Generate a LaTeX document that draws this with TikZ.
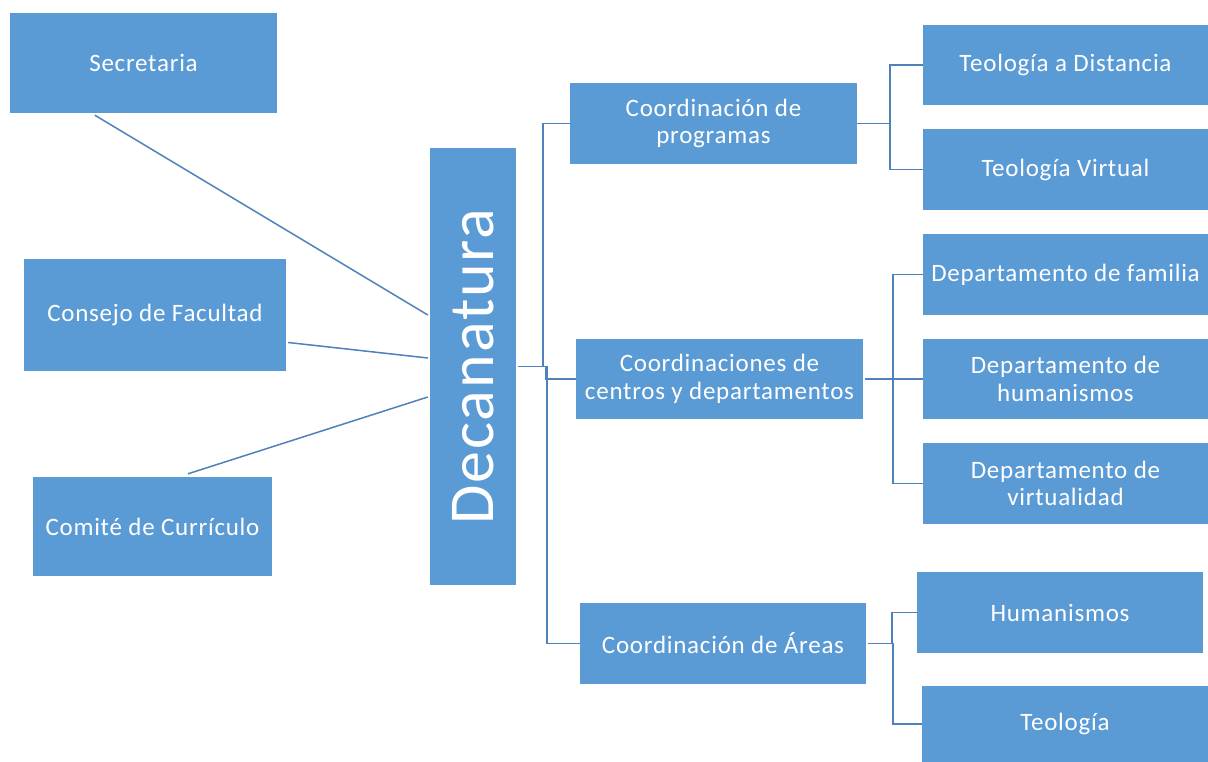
\documentclass[tikz,border=0pt]{standalone}
\usepackage{fontspec}
\setmainfont{Carlito}[LetterSpace=3]
\definecolor{boxblue}{HTML}{5B9BD5}
\definecolor{lineblue}{HTML}{4F81BD}
\begin{document}
\begin{tikzpicture}[x=1pt,y=-1pt,
  box/.style={fill=boxblue,draw=none,text=white,align=center,inner sep=0pt,
    font=\fontsize{25}{27.5}\selectfont},
  conn/.style={draw=lineblue,line width=1.5pt}]
\fill[white] (0,0) rectangle (1208,762);
\useasboundingbox (0,0) rectangle (1208,762);
% left
\node[box,minimum width=267pt,minimum height=100pt] (sec) at (143.5,63) {Secretaria};
\node[box,minimum width=262pt,minimum height=112pt] (cons) at (155,315) {Consejo de Facultad};
\node[box,minimum width=239pt,minimum height=99pt] (comi) at (152.5,526.5) {Comité de Currículo};
% center
\node[box,minimum width=86pt,minimum height=437pt] (dec) at (473,366.5) {};
\node[text=white,rotate=90,font=\fontsize{64}{70}\selectfont,inner sep=0pt] (dect) at (dec.center) {Decanatura};
% middle column
\node[box,minimum width=287pt,minimum height=81pt] (cp) at (713.5,123.5) {Coordinación de\\programas};
\node[box,minimum width=287pt,minimum height=80pt] (cc) at (719.5,379) {Coordinaciones de\\centros y departamentos};
\node[box,minimum width=286pt,minimum height=81pt] (ca) at (723,643.5) {Coordinación de Áreas};
% right column
\node[box,minimum width=285pt,minimum height=80pt] (td) at (1065.5,65) {Teología a Distancia};
\node[box,minimum width=285pt,minimum height=81pt] (tv) at (1065.5,169.5) {Teología Virtual};
\node[box,minimum width=285pt,minimum height=81pt] (df) at (1065.5,274.5) {Departamento de familia};
\node[box,minimum width=285pt,minimum height=80pt] (dh) at (1065.5,379) {Departamento de\\humanismos};
\node[box,minimum width=285pt,minimum height=81pt] (dv) at (1065.5,483.5) {Departamento de\\virtualidad};
\node[box,minimum width=286pt,minimum height=81pt] (hu) at (1060,612.5) {Humanismos};
\node[box,minimum width=286pt,minimum height=76pt] (te) at (1065,724) {Teología};
% left connectors
\draw[conn] ([xshift=85pt,yshift=-2pt]sec.south west) -- ([xshift=-2pt,yshift=51.5pt]dec.west);
\draw[conn] ([xshift=2pt,yshift=-27.5pt]cons.east) -- ([xshift=-2pt,yshift=8.5pt]dec.west);
\draw[conn] ([xshift=35.5pt,yshift=3pt]comi.north) -- ([xshift=-2pt,yshift=-30.5pt]dec.west);
% decanatura to middle
\draw[conn] ([xshift=2pt]dec.east) -- ++(25pt,0) |- (cp.west);
\draw[conn] ([xshift=2pt]dec.east) -- ++(28pt,0) |- (cc.west);
\draw[conn] ([xshift=2pt]dec.east) -- ++(29pt,0) |- (ca.west);
% middle to right
\draw[conn] (cp.east) -- ++(33pt,0) |- (td.west);
\draw[conn] (cp.east) -- ++(33pt,0) |- (tv.west);
\draw[conn] ([xshift=2pt]cc.east) -- ++(28pt,0) |- (df.west);
\draw[conn] ([xshift=2pt]cc.east) -- ++(28pt,0) |- (dh.west);
\draw[conn] ([xshift=2pt]cc.east) -- ++(28pt,0) |- (dv.west);
\draw[conn] ([xshift=2pt]ca.east) -- ++(24pt,0) |- (hu.west);
\draw[conn] ([xshift=2pt]ca.east) -- ++(25pt,0) |- (te.west);
\end{tikzpicture}
\end{document}
